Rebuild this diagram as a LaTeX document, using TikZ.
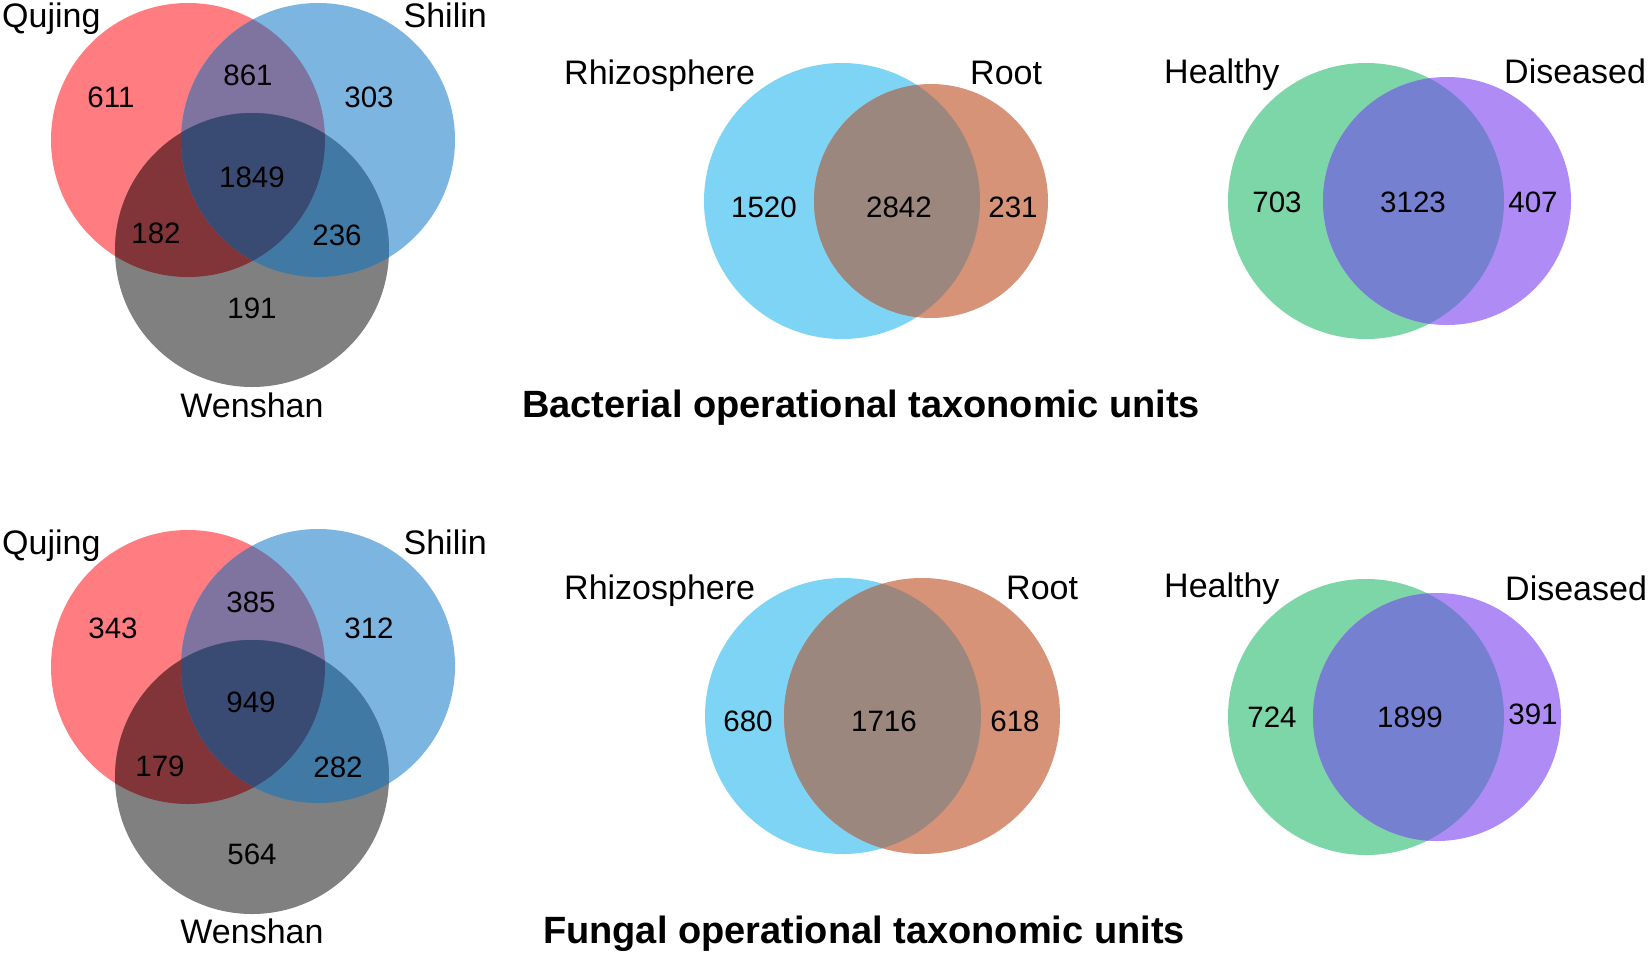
\documentclass[tikz,border=0pt]{standalone}
\usepackage{fontspec}
\setmainfont{Liberation Sans}
\definecolor{cRed}{HTML}{FF7C80}
\definecolor{cBlue}{HTML}{7DB5E1}
\definecolor{cGray}{HTML}{808080}
\definecolor{cRB}{HTML}{7F73A0}
\definecolor{cRG}{HTML}{823539}
\definecolor{cBG}{HTML}{407AA4}
\definecolor{cRBG}{HTML}{3A4B73}
\definecolor{cRhizo}{HTML}{7DD4F5}
\definecolor{cRoot}{HTML}{D69378}
\definecolor{cRhRo}{HTML}{9B877D}
\definecolor{cHealthy}{HTML}{7DD6A8}
\definecolor{cDiseased}{HTML}{AF8CF5}
\definecolor{cHeDi}{HTML}{7680D0}
\newcommand\ThreeVenn[3]{%
  \fill[cRed] (#1) circle[radius=137pt];
  \fill[cBlue] (#2) circle[radius=137pt];
  \fill[cGray] (#3) circle[radius=137pt];
  \begin{scope}\clip (#1) circle[radius=137pt];
    \fill[cRB] (#2) circle[radius=137pt];
    \fill[cRG] (#3) circle[radius=137pt];
  \end{scope}
  \begin{scope}\clip (#2) circle[radius=137pt];
    \fill[cBG] (#3) circle[radius=137pt];
  \end{scope}
  \begin{scope}\clip (#1) circle[radius=137pt];
    \clip (#2) circle[radius=137pt];
    \fill[cRBG] (#3) circle[radius=137pt];
  \end{scope}}
% #1 centre A, #2 radius A, #3 centre B, #4 radius B, #5 col A, #6 col B, #7 col overlap
\newcommand\TwoVenn[7]{%
  \fill[#5] (#1) circle[radius=#2];
  \fill[#6] (#3) circle[radius=#4];
  \begin{scope}\clip (#1) circle[radius=#2];
    \fill[#7] (#3) circle[radius=#4];
  \end{scope}}
\begin{document}
\begin{tikzpicture}[x=1pt,y=-1pt,
  lab/.style={font=\fontsize{34}{34}\selectfont, inner sep=0pt},
  num/.style={font=\fontsize{29.5}{30}\selectfont, inner sep=0pt},
  ttl/.style={font=\bfseries\fontsize{38}{38}\selectfont, inner sep=0pt}]
\fill[white] (0,0) rectangle (1650,954);
\useasboundingbox (0,0) rectangle (1650,954);

% ---------- centres ----------
\coordinate (bQ) at (188,140);
\coordinate (bS) at (318,140);
\coordinate (bW) at (252,250);
\coordinate (fQ) at (188,667);
\coordinate (fS) at (318,666);
\coordinate (fW) at (252,777);
\coordinate (bRh) at (842,201);
\coordinate (bRo) at (931,201);
\coordinate (bHe) at (1366,201);
\coordinate (bDi) at (1447,201);
\coordinate (fRh) at (843,716);
\coordinate (fRo) at (922,716);
\coordinate (fHe) at (1366,717);
\coordinate (fDi) at (1437,717);

% ---------- bacterial ----------
\ThreeVenn{bQ}{bS}{bW}
\TwoVenn{bRh}{138pt}{bRo}{117pt}{cRhizo}{cRoot}{cRhRo}
\TwoVenn{bHe}{138pt}{bDi}{124pt}{cHealthy}{cDiseased}{cHeDi}

\node[lab, anchor=base west] (bqlab) at (2,27) {Qujing};
\node[lab, anchor=base east] (bslab) at (487,27) {Shilin};
\node[lab, anchor=base] (bwlab) at (252,417) {Wenshan};
\node[num] (b611) at (111,97) {611};
\node[num] (b861) at (248,75) {861};
\node[num] (b303) at (369,97) {303};
\node[num] (b1849) at (252,177) {1849};
\node[num] (b182) at (156,233) {182};
\node[num] (b236) at (337,235) {236};
\node[num] (b191) at (252,308) {191};

\node[lab, anchor=base west] (brhlab) at (564,84) {Rhizosphere};
\node[lab, anchor=base west] (brolab) at (970,84) {Root};
\node[num] (b1520) at (764,207) {1520};
\node[num] (b2842) at (899,207) {2842};
\node[num] (b231) at (1013,207) {231};

\node[lab, anchor=base west] (bhelab) at (1164,83) {Healthy};
\node[lab, anchor=base west] (bdilab) at (1504,83) {Diseased};
\node[num] (b703) at (1277,202) {703};
\node[num] (b3123) at (1413,202) {3123};
\node[num] (b407) at (1533,202) {407};

\node[ttl, anchor=base] (btitle) at (861,417) {Bacterial operational taxonomic units};

% ---------- fungal ----------
\ThreeVenn{fQ}{fS}{fW}
\TwoVenn{fRh}{138pt}{fRo}{138pt}{cRhizo}{cRoot}{cRhRo}
\TwoVenn{fHe}{138pt}{fDi}{124pt}{cHealthy}{cDiseased}{cHeDi}

\node[lab, anchor=base west] (fqlab) at (2,554) {Qujing};
\node[lab, anchor=base east] (fslab) at (487,554) {Shilin};
\node[lab, anchor=base] (fwlab) at (252,943) {Wenshan};
\node[num] (f343) at (113,628) {343};
\node[num] (f385) at (251,602) {385};
\node[num] (f312) at (369,628) {312};
\node[num] (f949) at (251,702) {949};
\node[num] (f179) at (160,766) {179};
\node[num] (f282) at (338,767) {282};
\node[num] (f564) at (252,854) {564};

\node[lab, anchor=base west] (frhlab) at (564,599) {Rhizosphere};
\node[lab, anchor=base west] (frolab) at (1006,599) {Root};
\node[num] (f680) at (748,721) {680};
\node[num] (f1716) at (884,721) {1716};
\node[num] (f618) at (1015,721) {618};

\node[lab, anchor=base west] (fhelab) at (1164,597) {Healthy};
\node[lab, anchor=base west] (fdilab) at (1505,600) {Diseased};
\node[num] (f724) at (1272,717) {724};
\node[num] (f1899) at (1410,717) {1899};
\node[num] (f391) at (1533,714) {391};

\node[ttl, anchor=base] (ftitle) at (864,943) {Fungal operational taxonomic units};
\end{tikzpicture}
\end{document}
